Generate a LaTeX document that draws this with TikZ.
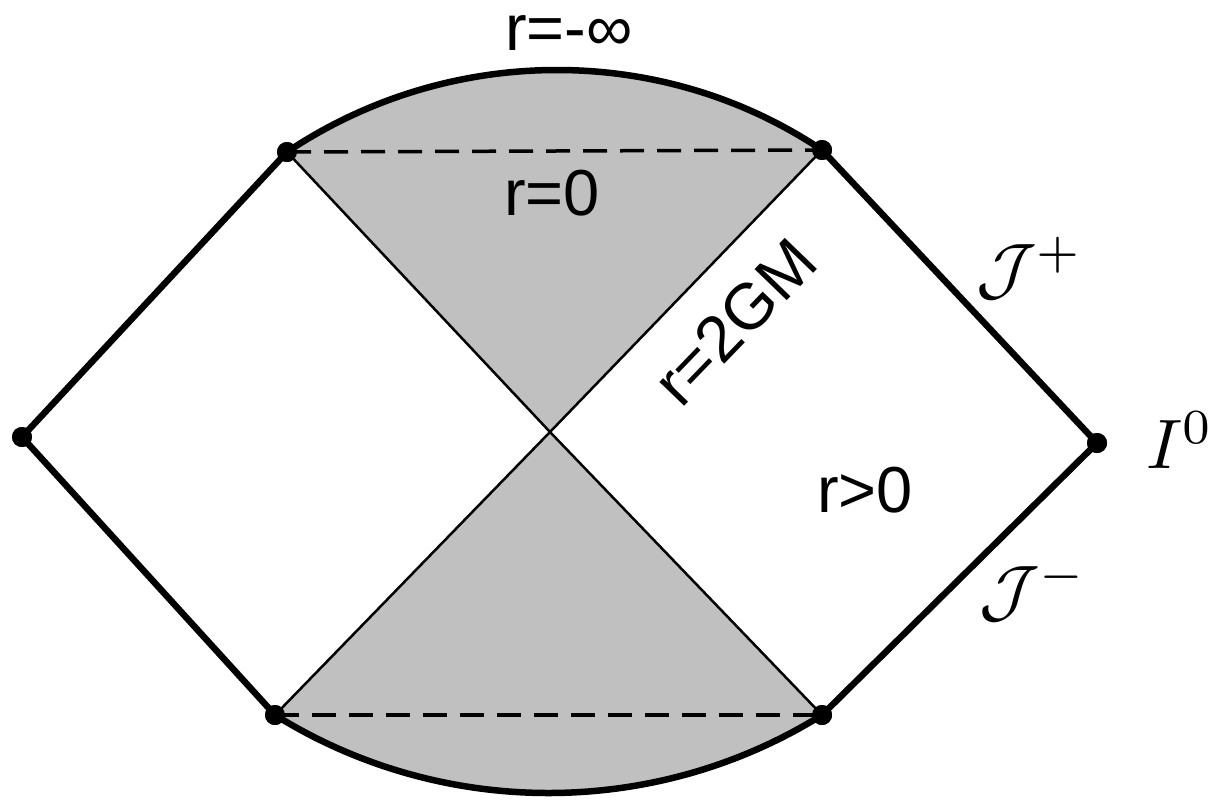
\documentclass[tikz,border=0pt]{standalone}
\usepackage{fontspec}
\setmainfont{Liberation Sans}
\definecolor{regiongray}{RGB}{192,192,192}
\begin{document}
\begin{tikzpicture}[x=1pt,y=-1pt,
  thickline/.style={line width=6.5pt, line cap=round, line join=round},
  thinline/.style={line width=2.5pt},
  dashline/.style={line width=3.5pt, dash pattern=on 24pt off 13pt},
  dot/.style={circle, fill=black, inner sep=0pt, minimum size=20pt},
  lbl/.style={font=\fontsize{65}{78}\selectfont, inner sep=0pt},
  mlbl/.style={scale=7, inner sep=0pt}]
\useasboundingbox (0,0) rectangle (1221,804);
% vertices
\node[dot] (L)  at (22,437) {};
\node[dot] (TL) at (287,152) {};
\node[dot] (TR) at (822,150) {};
\node[dot] (R)  at (1097,443) {};
\node[dot] (BR) at (822,715) {};
\node[dot] (BL) at (275,715) {};
\coordinate (C) at (550,432);
% shaded regions
\fill[regiongray] (TL.center) .. controls (448,44) and (661,42) .. (TR.center) -- (C) -- cycle;
\fill[regiongray] (BL.center) .. controls (442,819) and (655,819) .. (BR.center) -- (C) -- cycle;
% horizons
\draw[thinline] (TL.center) -- (C) -- (BR.center);
\draw[thinline] (TR.center) -- (C) -- (BL.center);
% dashed
\draw[dashline] (TL.center) -- (TR.center);
\draw[dashline] (BL.center) -- (BR.center);
% boundaries
\draw[thickline] (TL.center) .. controls (448,44) and (661,42) .. (TR.center);
\draw[thickline] (BL.center) .. controls (442,819) and (655,819) .. (BR.center);
\draw[thickline] (TL.center) -- (L.center) -- (BL.center);
\draw[thickline] (TR.center) -- (R.center) -- (BR.center);
% dots on top
\foreach \p in {L,TL,TR,R,BR,BL} \fill (\p.center) circle (10pt);
% labels
\node[lbl, anchor=base] (rinf) at (569,50) {r=-∞};
\node[lbl, anchor=base] (rzero) at (552,215) {r=0};
\node[lbl, anchor=base] (rpos) at (865,512) {r>0};
\node[lbl, rotate=46] (rtwo) at (735,322) {r=2GM};
\node[mlbl] (Jp) at (1030,268) {$\mathcal{J}^{+}$};
\node[mlbl] (Jm) at (1033,590) {$\mathcal{J}^{-}$};
\node[mlbl] (I0) at (1180,440) {$I^{0}$};
\end{tikzpicture}
\end{document}
